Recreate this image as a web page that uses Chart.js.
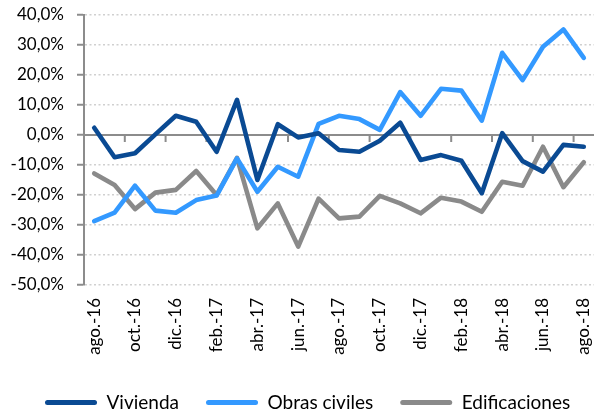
<!DOCTYPE html>
<html><head><meta charset="utf-8">
<script src="https://cdn.jsdelivr.net/npm/chart.js@4/dist/chart.umd.min.js"></script>
<style>html,body{margin:0;padding:0;background:#fff}#wrap{width:595px;height:414px;position:relative}</style>
</head><body><div id="wrap"><canvas id="c" width="595" height="414"></canvas></div>
<script>
const months = ['ago.-16','sep.-16','oct.-16','nov.-16','dic.-16','ene.-17','feb.-17','mar.-17','abr.-17','may.-17','jun.-17','jul.-17','ago.-17','sep.-17','oct.-17','nov.-17','dic.-17','ene.-18','feb.-18','mar.-18','abr.-18','may.-18','jun.-18','jul.-18','ago.-18'];
const vivienda = [2.4,-7.4,-6.1,0.2,6.4,4.4,-5.6,11.7,-15.0,3.6,-0.8,0.6,-5.0,-5.6,-1.9,4.1,-8.3,-6.7,-8.6,-19.4,0.6,-8.7,-12.2,-3.3,-3.9];
const obrasCiviles = [-28.7,-25.9,-16.9,-25.2,-25.9,-21.7,-20.2,-7.8,-18.9,-10.6,-13.9,3.7,6.4,5.3,1.7,14.3,6.4,15.4,14.8,4.8,27.4,18.3,29.4,35.2,25.7];
const edificaciones = [-12.8,-16.7,-24.7,-19.2,-18.3,-12.0,-20.0,-7.6,-31.1,-22.8,-37.2,-21.2,-27.8,-27.2,-20.3,-22.8,-26.1,-20.9,-22.2,-25.6,-15.6,-16.9,-3.9,-17.4,-9.1];
const seriesNames = ['Vivienda','Obras civiles','Edificaciones'];
const yMin = -50, yMax = 40, yStep = 10;

const FONT = 'Lato';
const zeroLine = {
  id: 'zeroLine',
  beforeDatasetsDraw(chart) {
    const {ctx, chartArea, scales: {x, y}} = chart;
    const y0 = y.getPixelForValue(0);
    ctx.save();
    ctx.strokeStyle = '#8c8c8c';
    ctx.lineWidth = 2;
    ctx.beginPath();
    ctx.moveTo(chartArea.left, y0);
    ctx.lineTo(chartArea.right, y0);
    for (let k = 2; k < months.length; k += 2) {
      const px = (x.getPixelForValue(k - 1) + x.getPixelForValue(k)) / 2;
      ctx.moveTo(px, y0);
      ctx.lineTo(px, y0 + 7);
    }
    ctx.stroke();
    ctx.restore();
  }
};
const legendShift = {
  id: 'legendShift',
  afterLayout(chart) {
    chart.legend.left += 18;
    chart.legend.right += 18;
  }
};

new Chart(document.getElementById('c'), {
  type: 'line',
  data: {
    labels: months,
    datasets: [
      {label: seriesNames[0], data: vivienda, borderColor: '#0A4A93', backgroundColor: '#0A4A93'},
      {label: seriesNames[1], data: obrasCiviles, borderColor: '#3399FF', backgroundColor: '#3399FF'},
      {label: seriesNames[2], data: edificaciones, borderColor: '#8A8A8A', backgroundColor: '#8A8A8A'}
    ].map(d => Object.assign(d, {borderWidth: 4.6, borderCapStyle: 'round', borderJoinStyle: 'round', pointRadius: 0, pointHoverRadius: 0, tension: 0, fill: false}))
  },
  options: {
    responsive: false,
    devicePixelRatio: 1,
    animation: false,
    layout: {padding: {top: 15, right: 1, left: 0, bottom: -8}},
    plugins: {
      tooltip: {enabled: false},
      legend: {
        position: 'bottom',
        align: 'start',
        labels: {
          boxWidth: 52, boxHeight: 5, padding: 27,
          color: '#000',
          font: {family: FONT, size: 19},
          useBorderRadius: true, borderRadius: 2.5,
          generateLabels(chart) {
            const items = Chart.defaults.plugins.legend.labels.generateLabels(chart);
            items.forEach(it => { it.lineWidth = 0; it.fillStyle = it.strokeStyle; });
            return items;
          }
        }
      }
    },
    scales: {
      x: {
        type: 'category',
        offset: true,
        grid: {display: false, drawTicks: false},
        border: {display: false},
        ticks: {
          autoSkip: false, maxRotation: 90, minRotation: 90, padding: 13,
          color: '#000', font: {family: FONT, size: 17},
          callback: (v, i) => (i % 2 === 0 ? months[i] : '')
        },
        afterFit: s => { s.height = 81; s.paddingLeft = 0; s.paddingRight = 0; }
      },
      y: {
        min: yMin, max: yMax,
        grid: {
          color: c => (c.tick && c.tick.value === 0 ? 'rgba(0,0,0,0)' : '#d0d0d0'),
          lineWidth: 1.5,
          tickLength: 7, tickColor: '#8c8c8c', tickWidth: 2
        },
        border: {display: true, color: '#8c8c8c', width: 2, dash: [2, 2.5]},
        ticks: {
          stepSize: yStep, padding: 13, color: '#000',
          font: {family: FONT, size: 17},
          callback: v => v.toFixed(1).replace('.', ',') + '%'
        },
        afterFit: s => { s.width = 84; s.paddingTop = 0; s.paddingBottom = 0; }
      }
    }
  },
  plugins: [zeroLine, legendShift]
});
</script></body></html>
